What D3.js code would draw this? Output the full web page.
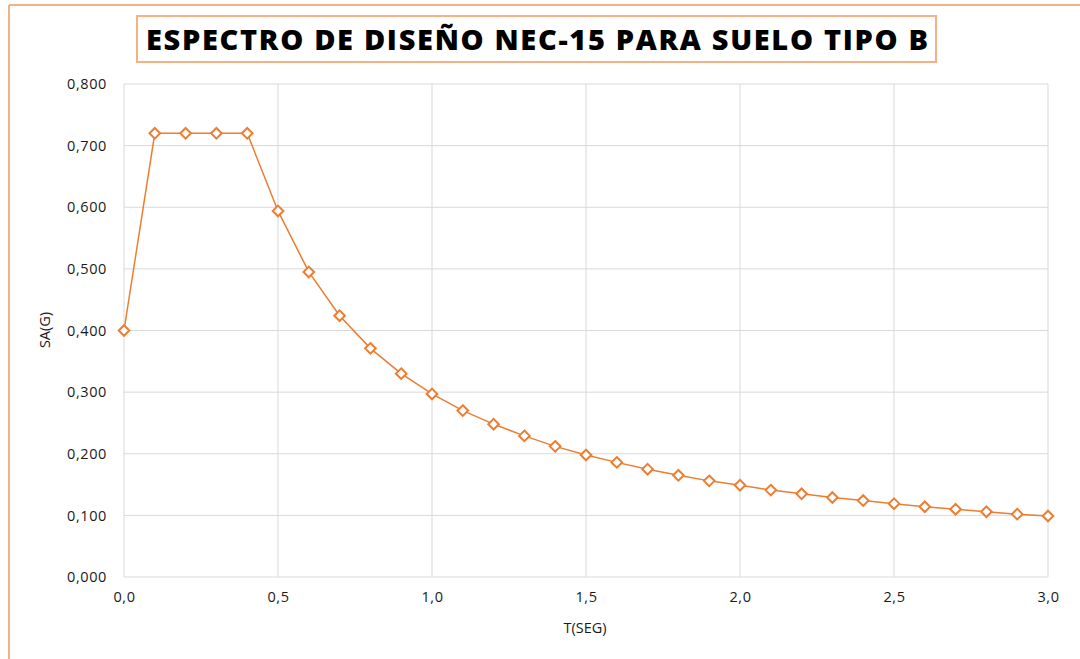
<!DOCTYPE html>
<html><head><meta charset="utf-8">
<script src="https://cdn.jsdelivr.net/npm/d3@7"></script>
<style>
html,body{margin:0;padding:0;background:#fff;}
svg{display:block;}
</style></head>
<body>
<svg id="chart" width="1080" height="659"></svg>
<script>
const periods = [0.0,0.1,0.2,0.3,0.4,0.5,0.6,0.7,0.8,0.9,1.0,1.1,1.2,1.3,1.4,1.5,1.6,1.7,1.8,1.9,2.0,2.1,2.2,2.3,2.4,2.5,2.6,2.7,2.8,2.9,3.0];
const saValues = [0.400,0.720,0.720,0.720,0.720,0.594,0.495,0.424,0.371,0.330,0.297,0.270,0.248,0.229,0.212,0.198,0.186,0.175,0.165,0.156,0.149,0.141,0.135,0.129,0.124,0.119,0.114,0.110,0.106,0.102,0.099];
const xTicks = [0.0,0.5,1.0,1.5,2.0,2.5,3.0];
const yTicks = [0.0,0.1,0.2,0.3,0.4,0.5,0.6,0.7,0.8];
const titleText = "ESPECTRO DE DISEÑO NEC-15 PARA SUELO TIPO B";
const xTitle = "T(SEG)";
const yTitle = "SA(G)";

const svg = d3.select("#chart");
const font = "'Open Sans', 'Liberation Sans', sans-serif";
const orange = "#ED7D31";
const frame = "#F4B183";

// outer frame (only left and top visible)
svg.append("line").attr("x1",9).attr("x2",9).attr("y1",5).attr("y2",659).attr("stroke",frame).attr("stroke-width",2);
svg.append("line").attr("x1",9).attr("x2",1080).attr("y1",5).attr("y2",5).attr("stroke",frame).attr("stroke-width",2);

// title box
svg.append("rect").attr("x",137).attr("y",16).attr("width",799).attr("height",46)
  .attr("fill","#fff").attr("stroke",frame).attr("stroke-width",2);
svg.append("text").attr("x",537).attr("y",50).attr("text-anchor","middle")
  .attr("font-family",font).attr("font-weight",800).attr("font-size",29)
  .attr("textLength",782).attr("lengthAdjust","spacing")
  .attr("fill","#000").text(titleText);

const x = d3.scaleLinear().domain([0,3]).range([124,1048]);
const y = d3.scaleLinear().domain([0,0.8]).range([577,84]);

// gridlines
svg.append("g").selectAll("line").data(yTicks).join("line")
  .attr("x1",x(0)).attr("x2",x(3)).attr("y1",d=>y(d)).attr("y2",d=>y(d))
  .attr("stroke","#D9D9D9").attr("stroke-width",1);
svg.append("g").selectAll("line").data(xTicks).join("line")
  .attr("x1",d=>x(d)).attr("x2",d=>x(d)).attr("y1",y(0)).attr("y2",y(0.8))
  .attr("stroke","#D9D9D9").attr("stroke-width",1);

// axes labels via d3 axes
const fmtY = v => d3.format(".3f")(v).replace(".",",");
const fmtX = v => d3.format(".1f")(v).replace(".",",");
const yAxis = svg.append("g").attr("transform",`translate(${x(0)},0)`)
  .call(d3.axisLeft(y).tickValues(yTicks).tickFormat(fmtY).tickSize(0).tickPadding(17));
yAxis.select(".domain").remove();
yAxis.selectAll("text").attr("font-family",font).attr("font-size",14.5).attr("fill","#1a1a1a").attr("letter-spacing","0.6px");
const xAxis = svg.append("g").attr("transform",`translate(0,${y(0)})`)
  .call(d3.axisBottom(x).tickValues(xTicks).tickFormat(fmtX).tickSize(0).tickPadding(15));
xAxis.select(".domain").remove();
xAxis.selectAll("text").attr("font-family",font).attr("font-size",14.5).attr("fill","#1a1a1a").attr("letter-spacing","0.6px");

svg.append("text").attr("x",585).attr("y",633).attr("text-anchor","middle")
  .attr("font-family",font).attr("font-size",14.5).attr("fill","#1a1a1a").text(xTitle);
svg.append("text").attr("transform","translate(50,330) rotate(-90)").attr("text-anchor","middle")
  .attr("font-family",font).attr("font-size",14.5).attr("fill","#1a1a1a").text(yTitle);

const data = periods.map((t,i)=>({t, v: saValues[i]}));
svg.append("path").datum(data)
  .attr("d", d3.line().x(d=>x(d.t)).y(d=>y(d.v)))
  .attr("fill","none").attr("stroke",orange).attr("stroke-width",1.5);

const sym = d3.symbol().type(d3.symbolDiamond2).size(72);
svg.append("g").selectAll("path").data(data).join("path")
  .attr("transform",d=>`translate(${x(d.t)},${y(d.v)})`)
  .attr("d",sym).attr("fill","#fff").attr("stroke",orange).attr("stroke-width",2);
</script>
</body></html>
